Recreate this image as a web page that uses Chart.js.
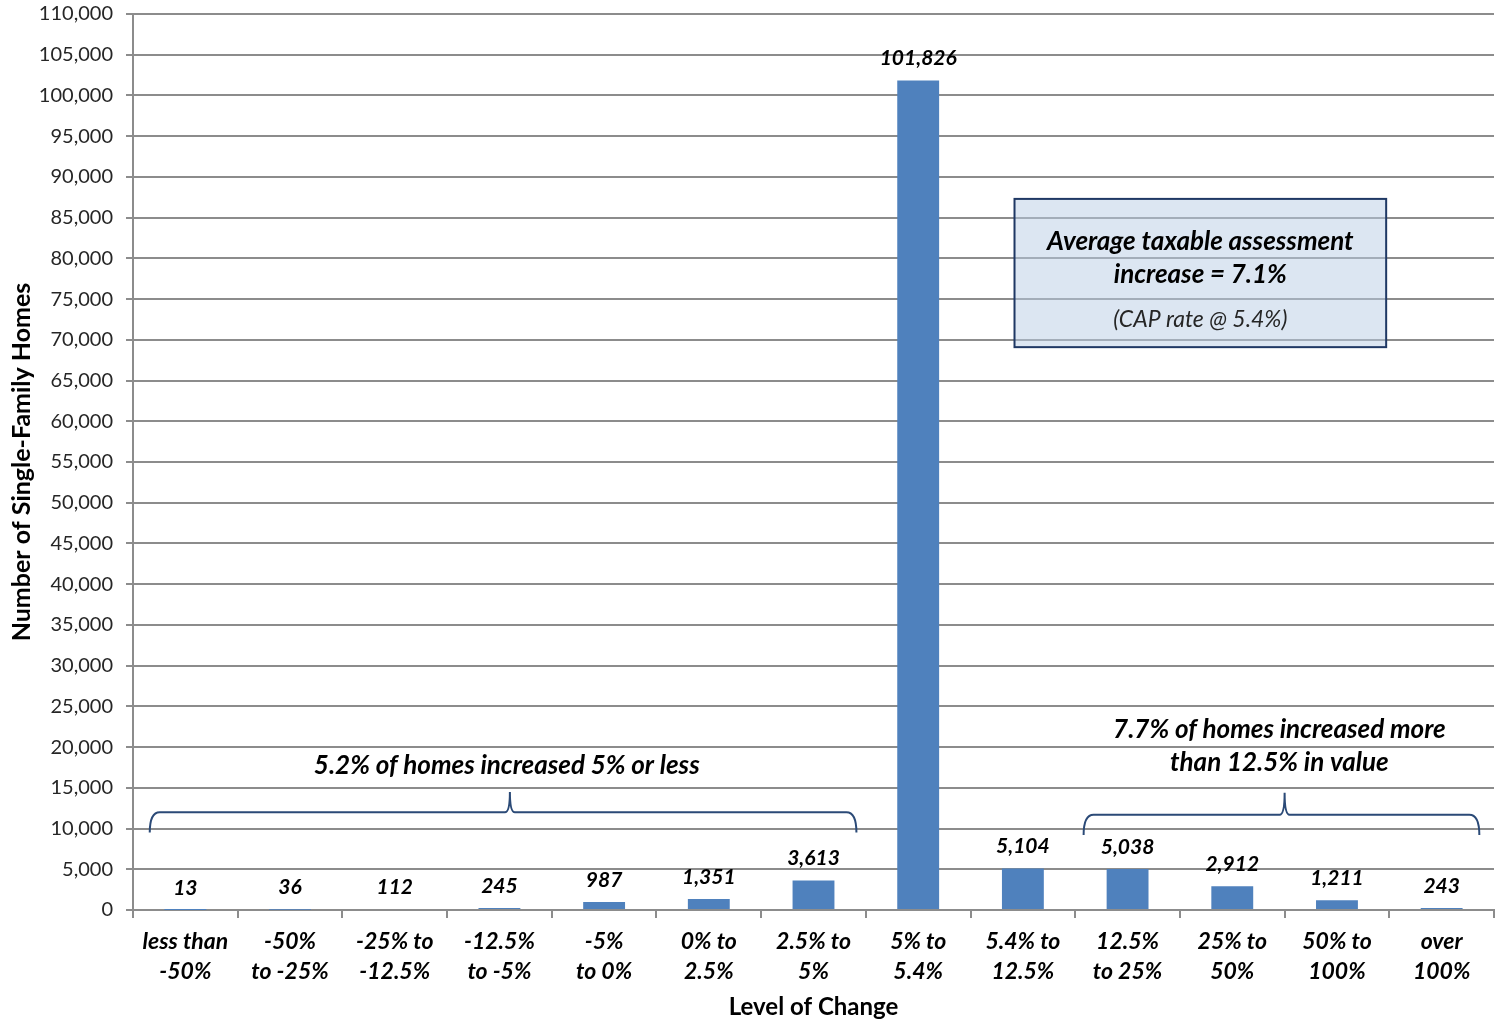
<!DOCTYPE html>
<html>
<head>
<meta charset="utf-8">
<script src="https://cdn.jsdelivr.net/npm/chart.js@4.4.1/dist/chart.umd.min.js"></script>
<style>
  html, body { margin: 0; padding: 0; background: #fff; }
  #wrap { width: 1495px; height: 1022px; }
</style>
</head>
<body>
<div id="wrap"><canvas id="chartCasas"></canvas></div>
<script>
// Dados do gráfico
const categorias = [
  ["less than", "-50%"], ["-50%", "to -25%"], ["-25% to", "-12.5%"], ["-12.5%", "to -5%"],
  ["-5%", "to 0%"], ["0% to", "2.5%"], ["2.5% to", "5%"], ["5% to", "5.4%"],
  ["5.4% to", "12.5%"], ["12.5%", "to 25%"], ["25% to", "50%"], ["50% to", "100%"], ["over", "100%"]
];
const casas = [13, 36, 112, 245, 987, 1351, 3613, 101826, 5104, 5038, 2912, 1211, 243];
const eixoY = { min: 0, max: 110000, passo: 5000 };

const textoCaixa = ["Average taxable assessment", "increase = 7.1%", "(CAP rate @ 5.4%)"];
const textoEsquerda = ["5.2% of homes increased 5% or less"];
const textoDireita = ["7.7% of homes increased more", "than 12.5% in value"];

const cores = {
  barra: '#4f81bd',
  grade: '#8c8c8c',
  texto: '#000000',
  ticks: '#262626',
  chave: '#2b4a77',
  caixaBorda: '#1f3864',
  caixaFundo: 'rgba(185, 205, 229, 0.5)'
};
const FONTE = 'Lato, "Open Sans", sans-serif';

// chave { ... } desenhada em coordenadas dos eixos (índice de categoria / valor)
function desenharChave(ctx, x, y, c) {
  const x0 = x.getPixelForValue(c.de), x1 = x.getPixelForValue(c.ate), xt = x.getPixelForValue(c.ponta);
  const yl = y.getPixelForValue(c.linha), ye = y.getPixelForValue(c.pontas), yt = y.getPixelForValue(c.topo);
  const r = 10, rp = 5;
  ctx.beginPath();
  ctx.moveTo(x0, ye);
  ctx.quadraticCurveTo(x0, yl, x0 + r, yl);
  ctx.lineTo(xt - rp, yl);
  ctx.quadraticCurveTo(xt, yl, xt, yt);
  ctx.quadraticCurveTo(xt, yl, xt + rp, yl);
  ctx.lineTo(x1 - r, yl);
  ctx.quadraticCurveTo(x1, yl, x1, ye);
  ctx.stroke();
}

const anotacoes = {
  id: 'anotacoes',
  afterDatasetsDraw(chart) {
    const { ctx, scales: { x, y } } = chart;
    ctx.save();

    // rótulos das barras
    ctx.font = 'italic bold 21px ' + FONTE;
    ctx.fillStyle = cores.texto;
    ctx.textAlign = 'center';
    ctx.textBaseline = 'middle';
    chart.getDatasetMeta(0).data.forEach((barra, i) => {
      ctx.fillText(casas[i].toLocaleString('en-US'), barra.x, barra.y - 22);
    });

    // chaves
    ctx.strokeStyle = cores.chave;
    ctx.lineWidth = 2;
    desenharChave(ctx, x, y, { de: -0.34, ate: 6.41, ponta: 3.1, linha: 12000, pontas: 9500, topo: 14500 });
    desenharChave(ctx, x, y, { de: 8.58, ate: 12.36, ponta: 10.5, linha: 11700, pontas: 9200, topo: 14400 });

    ctx.font = 'italic bold 26px ' + FONTE;
    ctx.fillText(textoEsquerda[0], x.getPixelForValue(3.07), y.getPixelForValue(17700));
    ctx.fillText(textoDireita[0], x.getPixelForValue(10.45), y.getPixelForValue(22200));
    ctx.fillText(textoDireita[1], x.getPixelForValue(10.45), y.getPixelForValue(18150));

    // caixa da média
    const bx0 = x.getPixelForValue(7.92), bx1 = x.getPixelForValue(11.47);
    const by0 = y.getPixelForValue(87300), by1 = y.getPixelForValue(69100);
    ctx.fillStyle = cores.caixaFundo;
    ctx.fillRect(bx0, by0, bx1 - bx0, by1 - by0);
    ctx.strokeStyle = cores.caixaBorda;
    ctx.strokeRect(bx0, by0, bx1 - bx0, by1 - by0);
    const cx = (bx0 + bx1) / 2;
    ctx.fillStyle = cores.texto;
    ctx.font = 'italic bold 26px ' + FONTE;
    ctx.fillText(textoCaixa[0], cx, y.getPixelForValue(82000));
    ctx.fillText(textoCaixa[1], cx, y.getPixelForValue(77950));
    ctx.fillStyle = '#262626';
    ctx.font = 'italic 23px ' + FONTE;
    ctx.fillText(textoCaixa[2], cx, y.getPixelForValue(72450));

    ctx.restore();
  }
};

document.addEventListener("DOMContentLoaded", () => {
  const ctx = document.getElementById('chartCasas').getContext('2d');

  new Chart(ctx, {
    type: 'bar',
    data: {
      labels: categorias,
      datasets: [{
        data: casas,
        backgroundColor: cores.barra,
        borderWidth: 0,
        barPercentage: 0.5,
        categoryPercentage: 0.8
      }]
    },
    options: {
      responsive: true,
      maintainAspectRatio: false,
      animation: false,
      layout: { padding: { top: 14, right: 1, bottom: 0, left: 0 } },
      plugins: {
        legend: { display: false },
        tooltip: { enabled: false }
      },
      scales: {
        x: {
          afterFit: s => { s.height = 112; },
          grid: { offset: true, drawOnChartArea: false, drawTicks: true, tickLength: 8, color: cores.grade, lineWidth: 2 },
          border: { color: cores.grade, width: 2 },
          ticks: {
            color: cores.texto,
            padding: 9,
            maxRotation: 0,
            autoSkip: false,
            font: { family: FONTE, size: 23, weight: 'bold', style: 'italic', lineHeight: 1.3 }
          },
          title: {
            display: true,
            text: 'Level of Change',
            color: cores.texto,
            padding: { top: 0, bottom: 0 },
            font: { family: FONTE, size: 24, weight: 'bold' }
          }
        },
        y: {
          min: eixoY.min,
          max: eixoY.max,
          afterFit: s => { s.width = 133; s.paddingTop = 0; s.paddingBottom = 0; },
          grid: { color: cores.grade, lineWidth: 2, tickLength: 7 },
          border: { color: cores.grade, width: 2 },
          ticks: {
            stepSize: eixoY.passo,
            color: cores.ticks,
            padding: 13,
            font: { family: FONTE, size: 20 },
            callback: v => v.toLocaleString('en-US')
          },
          title: {
            display: true,
            text: 'Number of Single-Family Homes',
            color: cores.texto,
            padding: { top: 7, bottom: 0 },
            font: { family: FONTE, size: 25, weight: 'bold' }
          }
        }
      }
    },
    plugins: [anotacoes]
  });
});
</script>
</body>
</html>
